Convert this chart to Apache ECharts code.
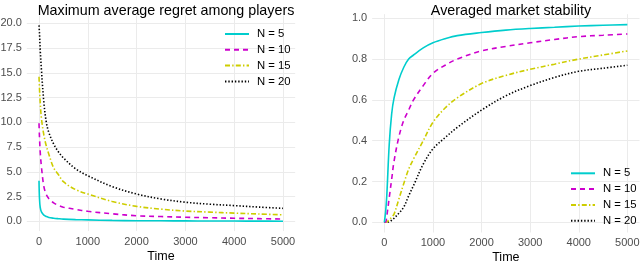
<!DOCTYPE html>
<html>
<head>
<meta charset="utf-8">
<script src="https://cdn.jsdelivr.net/npm/echarts@6/dist/echarts.min.js"></script>
<style>html,body{margin:0;padding:0;background:#fff;}#c{width:640px;height:261px;}</style>
</head>
<body>
<div id="c"></div>
<script>
// ---- data ----
const seriesNames = ['N = 5', 'N = 10', 'N = 15', 'N = 20'];
const xTicks = [0, 1000, 2000, 3000, 4000, 5000];
const regretTicks = [0, 2.5, 5, 7.5, 10, 12.5, 15, 17.5, 20];
const stabilityTicks = [0, 0.2, 0.4, 0.6, 0.8, 1.0];

const timeLeft = [0,10,25,50,100,150,200,300,400,500,750,1000,1500,2000,2500,3000,3500,4000,4500,5000];
const regretN5  = [4.1,2.3,1.4,0.95,0.62,0.48,0.38,0.3,0.25,0.21,0.16,0.13,0.08,0.05,0.04,0.03,0.02,0.015,0.01,0.0];
const regretN10 = [9.9,8.5,7.0,5.5,3.5,2.7,2.3,1.85,1.6,1.42,1.2,1.0,0.75,0.55,0.47,0.4,0.35,0.3,0.26,0.22];
const regretN15 = [14.6,13.4,12.0,10.4,8.7,7.6,6.8,5.4,4.7,4.0,3.2,2.75,2.0,1.5,1.22,1.03,0.92,0.82,0.73,0.65];
const regretN20 = [19.8,19.0,17.3,15.3,12.0,10.0,9.0,7.8,7.0,6.4,5.3,4.6,3.5,2.75,2.25,1.92,1.72,1.58,1.43,1.3];

const timeRight = [0,25,50,100,150,200,300,400,500,600,800,1000,1250,1500,2000,2500,3000,3500,4000,4500,5000];
const stabN5  = [0,0.05,0.13,0.38,0.53,0.61,0.70,0.76,0.80,0.82,0.855,0.88,0.9,0.915,0.93,0.942,0.95,0.956,0.962,0.966,0.969];
const stabN10 = [0,0.0,0.03,0.12,0.21,0.30,0.42,0.5,0.55,0.6,0.67,0.73,0.77,0.80,0.84,0.862,0.88,0.896,0.91,0.917,0.923];
const stabN15 = [0,0,0.002,0.012,0.025,0.04,0.115,0.19,0.26,0.31,0.4,0.49,0.56,0.61,0.68,0.72,0.75,0.775,0.80,0.82,0.84];
const stabN20 = [0,0,0,0.003,0.01,0.02,0.045,0.075,0.13,0.18,0.285,0.36,0.415,0.465,0.55,0.62,0.67,0.71,0.74,0.755,0.77];

// ---- styles ----
const colors = ['#00CDCD', '#CD00CD', '#CDCD00', '#000000'];
const dashes = ['solid', [5, 4], [5, 2.2, 1.4, 2.2], [1.4, 1.9]];
const FONT = 'Liberation Sans, Arial, sans-serif';

function zip(xs, ys) { return xs.map((x, i) => [x, ys[i]]); }

const regretData = [regretN5, regretN10, regretN15, regretN20];
const stabData = [stabN5, stabN10, stabN15, stabN20];

function mkSeries(dataArr, times, idx) {
  return dataArr.map((ys, i) => ({
    name: seriesNames[i],
    type: 'line',
    xAxisIndex: idx, yAxisIndex: idx,
    data: zip(times, ys),
    symbol: 'none',
    smooth: 0.35,
    lineStyle: { color: colors[i], width: 1.6, type: dashes[i] },
    itemStyle: { color: colors[i] },
    z: 10 - i
  }));
}

const gridLine = { show: true, lineStyle: { color: '#EBEBEB', width: 1 } };
function xAxisCfg(gi) {
  return {
    type: 'value', gridIndex: gi, min: -250, max: 5250,
    name: 'Time', nameLocation: 'middle', nameGap: 19, nameMoveOverlap: false,
    nameTextStyle: { fontFamily: FONT, fontSize: 12.5, color: '#000' },
    axisLine: { show: false },
    axisTick: { show: false, customValues: xTicks },
    axisLabel: { customValues: xTicks, fontFamily: FONT, fontSize: 11, color: '#4D4D4D', margin: 5,
                 formatter: v => String(v) },
    splitLine: gridLine
  };
}
function yAxisCfg(gi, min, max, ticks, fmt) {
  return {
    type: 'value', gridIndex: gi, min: min, max: max,
    axisLine: { show: false },
    axisTick: { show: false, customValues: ticks },
    axisLabel: { customValues: ticks, fontFamily: FONT, fontSize: 11, color: '#4D4D4D', margin: 5,
                 formatter: v => v.toFixed(fmt) },
    splitLine: gridLine
  };
}

const legendCommon = {
  orient: 'vertical', data: seriesNames, itemWidth: 24, itemHeight: 11, itemGap: 4.8,
  itemStyle: { opacity: 0, borderWidth: 0 },
  textStyle: { fontFamily: FONT, fontSize: 11.3, color: '#000', padding: [0, 0, 0, 3] },
  selectedMode: false
};

const chart = echarts.init(document.getElementById('c'), null, { renderer: 'canvas' });
chart.setOption({
  animation: false,
  backgroundColor: '#fff',
  title: [
    { text: 'Maximum average regret among players', left: 161, top: -1, textAlign: 'center',
      textStyle: { fontFamily: FONT, fontSize: 14.3, fontWeight: 'normal', color: '#000' } },
    { text: 'Averaged market stability', left: 506, top: -1, textAlign: 'center',
      textStyle: { fontFamily: FONT, fontSize: 14.3, fontWeight: 'normal', color: '#000' } }
  ],
  grid: [
    { left: 26.8, top: 15.5, width: 268.4, height: 215.6, containLabel: false, outerBoundsMode: 'none' },
    { left: 372.2, top: 14.2, width: 267.3, height: 218.3, containLabel: false, outerBoundsMode: 'none' }
  ],
  xAxis: [xAxisCfg(0), xAxisCfg(1)],
  yAxis: [yAxisCfg(0, -1, 20.8, regretTicks, 1), yAxisCfg(1, -0.05, 1.02, stabilityTicks, 1)],
  legend: [
    Object.assign({}, legendCommon, { left: 219, top: 23.5 }),
    Object.assign({}, legendCommon, { left: 565, top: 162.8 })
  ],
  series: mkSeries(regretData, timeLeft, 0).concat(mkSeries(stabData, timeRight, 1))
});
</script>
</body>
</html>
